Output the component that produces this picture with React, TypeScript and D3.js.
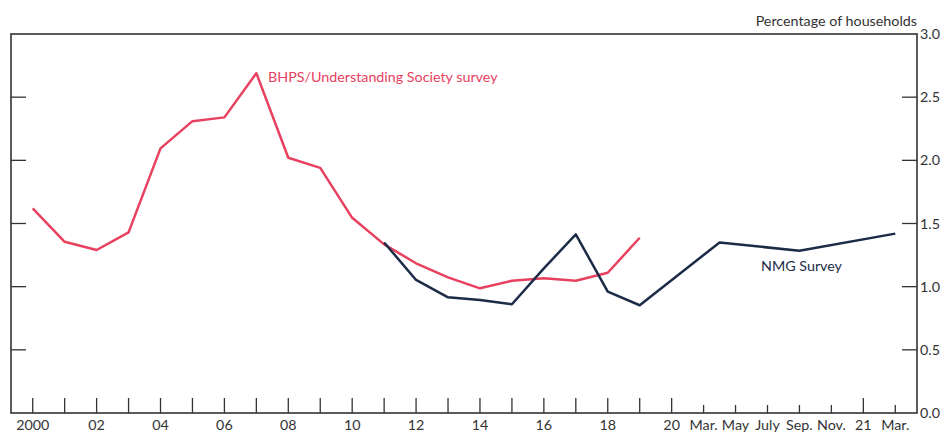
import React from "react";
import * as d3 from "d3";

// Axis categories (position index: one per year 2000-2020, then two-monthly to Mar. 2021)
const tickLabels: string[] = [
  "2000", "", "02", "", "04", "", "06", "", "08", "", "10", "", "12", "", "14", "", "16", "", "18", "", "20",
  "Mar.", "May", "July", "Sep.", "Nov.", "21", "Mar.",
];
const majorTicks: boolean[] = tickLabels.map((_, i) => i <= 20 || i === 26);

// BHPS / Understanding Society survey (annual, 2000-2019)
const bhpsPos: number[] = [0, 1, 2, 3, 4, 5, 6, 7, 8, 9, 10, 11, 12, 13, 14, 15, 16, 17, 18, 19];
const bhpsValues: number[] = [
  1.62, 1.355, 1.29, 1.43, 2.095, 2.31, 2.34, 2.69, 2.02, 1.94,
  1.545, 1.335, 1.185, 1.074, 0.987, 1.047, 1.066, 1.047, 1.11, 1.387,
];

// NMG Survey (2011-2019 annual, then Apr. 2020, Sep. 2020, Mar. 2021)
const nmgPos: number[] = [11, 12, 13, 14, 15, 16, 17, 18, 19, 21.5, 24, 27];
const nmgValues: number[] = [1.35, 1.053, 0.916, 0.895, 0.861, 1.145, 1.414, 0.96, 0.853, 1.35, 1.284, 1.42];

const yTicks: number[] = [0, 0.5, 1, 1.5, 2, 2.5, 3];

const W = 944;
const H = 433;
const left = 11;
const right = 917;
const top = 34;
const bottom = 413;

const RED = "#E8415F";
const NAVY = "#1C2B47";
const AXIS = "#333333";
const FONT = "Lato, 'Open Sans', sans-serif";
const FS = 14.3;

export default function App() {
  const x = d3.scaleLinear().domain([-0.68, 27.68]).range([left, right]);
  const y = d3.scaleLinear().domain([0, 3]).range([bottom, top]);

  const line = d3
    .line<[number, number]>()
    .x((d) => x(d[0]))
    .y((d) => y(d[1]));

  const bhps: [number, number][] = bhpsPos.map((p, i) => [p, bhpsValues[i]]);
  const nmg: [number, number][] = nmgPos.map((p, i) => [p, nmgValues[i]]);

  return (
    <svg
      width={W}
      height={H}
      style={{ position: "absolute", left: 0, top: 0, display: "block" }}
      fontFamily={FONT}
    >
      <rect x={0} y={0} width={W} height={H} fill="#fff" />
      {/* frame */}
      <rect x={left} y={top} width={right - left} height={bottom - top} fill="none" stroke={AXIS} strokeWidth={1.6} />

      {/* y ticks both sides */}
      {yTicks.map((t) => (
        <g key={t}>
          {t > 0 && t < 3 && (
            <>
              <line x1={left} x2={left + 15} y1={y(t)} y2={y(t)} stroke={AXIS} strokeWidth={1.3} />
              <line x1={right - 15} x2={right} y1={y(t)} y2={y(t)} stroke={AXIS} strokeWidth={1.3} />
            </>
          )}
          <text x={right + 3} y={y(t)} dy="0.35em" fontSize={FS} fill={AXIS}>
            {t.toFixed(1)}
          </text>
        </g>
      ))}

      {/* x ticks */}
      {tickLabels.map((lab, i) => (
        <g key={i}>
          <line
            x1={x(i)}
            x2={x(i)}
            y1={bottom}
            y2={bottom - (majorTicks[i] ? 15 : 8)}
            stroke={AXIS}
            strokeWidth={1.3}
          />
          {lab && (
            <text x={x(i)} y={430} textAnchor="middle" fontSize={FS} fill={AXIS}>
              {lab}
            </text>
          )}
        </g>
      ))}

      <text x={right} y={26} textAnchor="end" fontSize={FS} fill={AXIS}>
        Percentage of households
      </text>

      <path d={line(bhps) || ""} fill="none" stroke={RED} strokeWidth={2.5} strokeLinejoin="round" />
      <path d={line(nmg) || ""} fill="none" stroke={NAVY} strokeWidth={2.5} strokeLinejoin="round" />

      <text x={268} y={81.7} fontSize={FS} fill={RED}>
        BHPS/Understanding Society survey
      </text>
      <text x={761} y={271} fontSize={FS} fill={NAVY}>
        NMG Survey
      </text>
    </svg>
  );
}
